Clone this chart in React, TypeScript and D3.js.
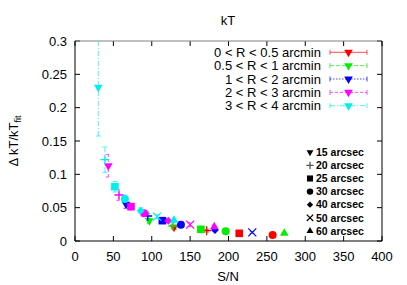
import React from "react";
import * as d3 from "d3";

// bin size (arcsec), S/N, delta kT / kT_fit, error
type Pt = { bin: number; sn: number; dkt: number; err: number };

const binLabels = [15, 20, 25, 30, 40, 50, 60];

const redPoints: Pt[] = [
  { bin: 15, sn: 129, dkt: 0.0205, err: 0.003 },
  { bin: 20, sn: 171.6, dkt: 0.0155, err: 0.002 },
  { bin: 25, sn: 214, dkt: 0.0115, err: 0.0015 },
  { bin: 30, sn: 257.5, dkt: 0.009, err: 0.0012 },
];
const greenPoints: Pt[] = [
  { bin: 15, sn: 96.8, dkt: 0.0305, err: 0.004 },
  { bin: 20, sn: 127.5, dkt: 0.0225, err: 0.003 },
  { bin: 25, sn: 164, dkt: 0.0175, err: 0.002 },
  { bin: 30, sn: 196.3, dkt: 0.0145, err: 0.0018 },
  { bin: 60, sn: 272.7, dkt: 0.0115, err: 0.0013 },
];
const bluePoints: Pt[] = [
  { bin: 15, sn: 66.5, dkt: 0.055, err: 0.006 },
  { bin: 20, sn: 94.7, dkt: 0.0375, err: 0.004 },
  { bin: 25, sn: 113.8, dkt: 0.0305, err: 0.003 },
  { bin: 30, sn: 138, dkt: 0.0245, err: 0.003 },
  { bin: 40, sn: 182.4, dkt: 0.0165, err: 0.002 },
  { bin: 50, sn: 231, dkt: 0.013, err: 0.0015 },
];
const magentaPoints: Pt[] = [
  { bin: 15, sn: 43.4, dkt: 0.113, err: 0.017 },
  { bin: 20, sn: 57.3, dkt: 0.069, err: 0.008 },
  { bin: 25, sn: 73, dkt: 0.0515, err: 0.005 },
  { bin: 30, sn: 90, dkt: 0.0415, err: 0.004 },
  { bin: 40, sn: 121.6, dkt: 0.0305, err: 0.003 },
  { bin: 50, sn: 150, dkt: 0.0245, err: 0.003 },
  { bin: 60, sn: 181.5, dkt: 0.0215, err: 0.0025 },
];
const cyanPoints: Pt[] = [
  { bin: 15, sn: 30.4, dkt: 0.2305, err: 0.073 },
  { bin: 20, sn: 39, dkt: 0.122, err: 0.019 },
  { bin: 25, sn: 52, dkt: 0.0815, err: 0.008 },
  { bin: 30, sn: 65, dkt: 0.063, err: 0.006 },
  { bin: 40, sn: 85.6, dkt: 0.0455, err: 0.004 },
  { bin: 50, sn: 107, dkt: 0.0365, err: 0.003 },
  { bin: 60, sn: 129, dkt: 0.031, err: 0.003 },
];

const seriesLabels = [
  "0 < R < 0.5 arcmin",
  "0.5 < R < 1 arcmin",
  "1 < R < 2 arcmin",
  "2 < R < 3 arcmin",
  "3 < R < 4 arcmin",
];
const seriesColors = ["#ff0000", "#00ee00", "#0000ff", "#ff00ff", "#00eeee"];
const seriesDash = ["", "4,2", "1.5,1.5", "3,2", "5,2,1,2"];
const seriesData = [redPoints, greenPoints, bluePoints, magentaPoints, cyanPoints];

const xTicks = [0, 50, 100, 150, 200, 250, 300, 350, 400];
const yTicks = [0, 0.05, 0.1, 0.15, 0.2, 0.25, 0.3];

const W = 407;
const H = 285;
const L = 75, R = 382, T = 41, B = 241;
const FONT = "'Liberation Sans', Arial, sans-serif";

const x = d3.scaleLinear().domain([0, 400]).range([L, R]);
const y = d3.scaleLinear().domain([0, 0.3]).range([B, T]);

function marker(bin: number, scale: number, color: string, key?: string) {
  const s = scale;
  const sym = (type: d3.SymbolType, size: number) => d3.symbol(type, size * s * s)() || "";
  switch (bin) {
    case 15:
      return <path key={key} d={sym(d3.symbolTriangle, 32)} transform="rotate(180)" fill={color} />;
    case 20:
      return (
        <path key={key} d={`M${-4.5 * s},0H${4.5 * s}M0,${-4.5 * s}V${4.5 * s}`} stroke={color} strokeWidth={1.3} fill="none" />
      );
    case 25:
      return <rect key={key} x={-3.8 * s} y={-3.8 * s} width={7.6 * s} height={7.6 * s} fill={color} />;
    case 30:
      return <circle key={key} r={4 * s} fill={color} />;
    case 40:
      return <path key={key} d={sym(d3.symbolDiamond2, 40)} fill={color} />;
    case 50:
      return (
        <path key={key} d={`M${-4 * s},${-4 * s}L${4 * s},${4 * s}M${-4 * s},${4 * s}L${4 * s},${-4 * s}`} stroke={color} strokeWidth={1.2} fill="none" />
      );
    default:
      return <path key={key} d={sym(d3.symbolTriangle, 32)} fill={color} />;
  }
}

export default function App() {
  const tick = 5;
  return (
    <svg width={W} height={H} style={{ position: "absolute", left: 0, top: 0, background: "#fff" }} fontFamily={FONT}>
      <defs>
        <clipPath id="plotClip">
          <rect x={L} y={T} width={R - L} height={B - T} />
        </clipPath>
      </defs>

      <text x={228} y={25} textAnchor="middle" fontSize={13}>kT</text>

      {/* ticks */}
      {xTicks.map((t) => (
        <g key={"x" + t}>
          <line x1={x(t)} x2={x(t)} y1={B} y2={B - tick} stroke="#000" />
          <line x1={x(t)} x2={x(t)} y1={T} y2={T + tick} stroke="#000" />
          <text x={x(t)} y={261} textAnchor="middle" fontSize={13}>{t}</text>
        </g>
      ))}
      {yTicks.map((t) => (
        <g key={"y" + t}>
          <line x1={L} x2={L + tick} y1={y(t)} y2={y(t)} stroke="#000" />
          <line x1={R} x2={R - tick} y1={y(t)} y2={y(t)} stroke="#000" />
          <text x={67} y={y(t) + 4.7} textAnchor="end" fontSize={13}>{d3.format("")(+t.toFixed(2))}</text>
        </g>
      ))}

      {/* border */}
      <line x1={L} x2={R} y1={T} y2={T} stroke="#808080" />
      <line x1={L} x2={L} y1={T} y2={B} stroke="#000" />
      <line x1={L} x2={R} y1={B} y2={B} stroke="#000" />
      <line x1={R} x2={R} y1={T} y2={B} stroke="#000" />

      {/* axis labels */}
      <text x={228} y={281} textAnchor="middle" fontSize={13}>S/N</text>
      <text transform={`translate(18,141) rotate(-90)`} textAnchor="middle" fontSize={13}>
        Δ kT/kT<tspan fontSize={9} dy={3}>fit</tspan>
      </text>

      {/* error bars */}
      <g clipPath="url(#plotClip)">
        {seriesData.map((pts, si) =>
          pts.map((p, i) => {
            const cx = x(p.sn);
            const y1 = y(p.dkt - p.err);
            const y2 = y(p.dkt + p.err);
            return (
              <g key={`e${si}-${i}`} stroke={seriesColors[si]} strokeOpacity={0.7} strokeDasharray={seriesDash[si] || undefined} fill="none">
                <line x1={cx} x2={cx} y1={y1} y2={y2} />
                <line x1={cx - 2.5} x2={cx + 2.5} y1={y1} y2={y1} strokeDasharray="" />
                <line x1={cx - 2.5} x2={cx + 2.5} y1={y2} y2={y2} strokeDasharray="" />
              </g>
            );
          })
        )}
      </g>

      {/* points */}
      {seriesData.map((pts, si) =>
        pts.map((p, i) => (
          <g key={`p${si}-${i}`} transform={`translate(${x(p.sn)},${y(p.dkt)})`}>
            {marker(p.bin, 1, seriesColors[si])}
          </g>
        ))
      )}

      {/* series legend */}
      {seriesLabels.map((lab, i) => {
        const ry = 52.3 + i * 13.35;
        return (
          <g key={"l" + i}>
            <text x={321} y={ry + 4.7} textAnchor="end" fontSize={13}>{lab}</text>
            <g stroke={seriesColors[i]} strokeOpacity={0.7} fill="none">
              <line x1={330} x2={367} y1={ry} y2={ry} strokeDasharray={seriesDash[i] || undefined} />
              <line x1={330} x2={330} y1={ry - 2.5} y2={ry + 2.5} />
              <line x1={367} x2={367} y1={ry - 2.5} y2={ry + 2.5} />
            </g>
            <g transform={`translate(348.5,${ry})`}>{marker(15, 1, seriesColors[i])}</g>
          </g>
        );
      })}

      {/* bin size legend */}
      {binLabels.map((b, i) => {
        const ry = 152.3 + i * 13.1;
        return (
          <g key={"b" + i}>
            <g transform={`translate(310,${ry})`}>{marker(b, 0.8, b === 20 ? "#555" : "#000")}</g>
            <text x={316} y={ry + 3.7} fontSize={10.5} fontWeight="bold">{`${b} arcsec`}</text>
          </g>
        );
      })}
    </svg>
  );
}
